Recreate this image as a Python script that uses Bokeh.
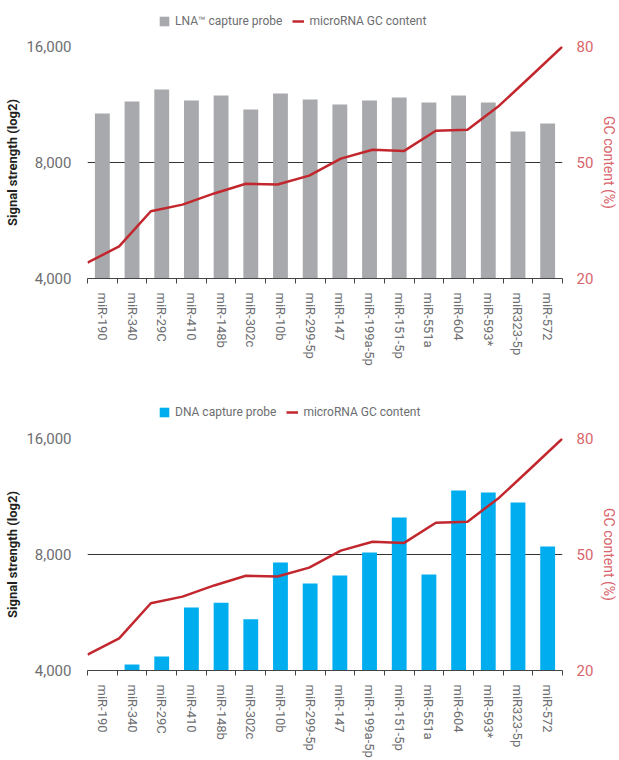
import numpy as np
from bokeh.plotting import figure
from bokeh.layouts import column
from bokeh.models import (Range1d, LinearAxis, LinearScale, FixedTicker,
                          NumeralTickFormatter, Legend, LegendItem)
from bokeh.embed import file_html
from bokeh.resources import INLINE

# ---- data -------------------------------------------------------------
categories = ["miR-190", "miR-340", "miR-29C", "miR-410", "miR-148b", "miR-302c",
              "miR-10b", "miR-299-5p", "miR-147", "miR-199a-5p", "miR-151-5p",
              "miR-551a", "miR-604", "miR-593*", "miR323-5p", "miR-572"]
lna_signal = [10720, 11520, 12370, 11590, 11940, 10980, 12080, 11650,
              11310, 11590, 11790, 11450, 11940, 11450, 9630, 10100]
dna_signal = [4000, 4145, 4350, 5830, 6000, 5430, 7630, 6730,
              7060, 8100, 9980, 7100, 11730, 11590, 10920, 8390]
gc_content = [24.1, 28.3, 37.4, 39.1, 42.0, 44.5, 44.3, 46.6,
              51.0, 53.3, 53.0, 58.2, 58.5, 64.7, 72.3, 80.0]
signal_ticks = [4000, 8000, 16000]
gc_ticks = [20, 50, 80]
lna_label = "LNA™ capture probe"
dna_label = "DNA capture probe"
gc_label = "microRNA GC content"

FONT = "Roboto"
GREY_TXT = "#6d6e71"
RED = "#c1272d"
RED_TXT = "#d9646c"
FRAME_W, FRAME_H = 475, 232
LEFT, RIGHT = 87, 48
LEG_H = 30
LNA_COLOR = "#a7a9ac"
DNA_COLOR = "#00aeef"


def make_legend_fig(bar_color, bar_label, vy):
    lf = figure(frame_width=FRAME_W, frame_height=LEG_H, output_backend="svg",
                toolbar_location=None, x_axis_location=None, y_axis_location=None,
                min_border_left=LEFT, min_border_right=RIGHT,
                min_border_top=0, min_border_bottom=0,
                outline_line_color=None, x_range=Range1d(0, 1), y_range=Range1d(0, 1))
    lf.grid.visible = False
    # legend-only renderers: their single point lies outside the visible range
    b = lf.vbar(x=[-5], top=[-4], bottom=[-5], width=0.5,
                fill_color=bar_color, line_color=None)
    ln = lf.line(x=[-5, -4], y=[-5, -5], line_color=RED, line_width=2.5)
    legend = Legend(items=[LegendItem(label=bar_label, renderers=[b]),
                           LegendItem(label=gc_label, renderers=[ln])],
                    location=(71, vy), orientation="horizontal",
                    glyph_width=12, glyph_height=12, label_height=12,
                    label_width=101, label_standoff=5, spacing=10,
                    padding=0, margin=0, border_line_color=None,
                    background_fill_alpha=0,
                    label_text_font=FONT, label_text_font_size="12px",
                    label_text_color=GREY_TXT)
    lf.add_layout(legend)
    return lf


def make_chart(values, bar_color, border_top, border_bottom):
    n = len(categories)
    centers = list(np.arange(n) + 0.5)
    p = figure(frame_width=FRAME_W, frame_height=FRAME_H, output_backend="svg",
               toolbar_location=None, y_axis_type="log",
               x_range=Range1d(0, n),
               y_range=Range1d(signal_ticks[0], signal_ticks[-1]),
               min_border_left=LEFT, min_border_right=RIGHT,
               min_border_top=border_top, min_border_bottom=border_bottom,
               outline_line_color=None, background_fill_color="white")
    p.extra_x_ranges = {"gcx": Range1d(0, n - 1)}
    p.extra_x_scales = {"gcx": LinearScale()}
    p.extra_y_ranges = {"gc": Range1d(gc_ticks[0], gc_ticks[-1])}
    p.extra_y_scales = {"gc": LinearScale()}

    p.vbar(x=centers, top=values, bottom=signal_ticks[0], width=0.5,
           fill_color=bar_color, line_color=None)
    p.line(x=list(range(n)), y=gc_content, x_range_name="gcx",
           y_range_name="gc", line_color=RED, line_width=2.5)

    # x axis
    xa = p.xaxis[0]
    xa.ticker = FixedTicker(ticks=centers, minor_ticks=list(range(n + 1)))
    xa.major_label_overrides = {c: lab for c, lab in zip(centers, categories)}
    xa.major_label_orientation = "vertical"
    xa.major_tick_out = 0
    xa.major_tick_in = 0
    xa.minor_tick_out = 5
    xa.minor_tick_in = 0
    xa.minor_tick_line_color = "#444444"
    xa.axis_line_color = "#444444"
    xa.major_label_standoff = 9
    xa.major_label_text_font = FONT
    xa.major_label_text_font_size = "13px"
    xa.major_label_text_color = GREY_TXT
    p.xgrid.visible = False

    # left axis
    ya = p.yaxis[0]
    ya.ticker = FixedTicker(ticks=signal_ticks, minor_ticks=[])
    ya.formatter = NumeralTickFormatter(format="0,0")
    ya.axis_line_color = None
    ya.major_tick_line_color = None
    ya.minor_tick_line_color = None
    ya.major_label_standoff = 10
    ya.major_label_text_font = FONT
    ya.major_label_text_font_size = "15px"
    ya.major_label_text_color = GREY_TXT
    ya.axis_label = "Signal strength (log2)"
    ya.axis_label_text_font = FONT
    ya.axis_label_text_font_size = "13px"
    ya.axis_label_text_font_style = "bold"
    ya.axis_label_text_color = "#231f20"
    ya.axis_label_standoff = 3
    p.ygrid.grid_line_color = "#333333"
    p.ygrid.grid_line_width = 1

    # right axis
    ra = LinearAxis(y_range_name="gc", ticker=FixedTicker(ticks=gc_ticks, minor_ticks=[]))
    ra.axis_line_color = None
    ra.major_tick_line_color = None
    ra.minor_tick_line_color = None
    ra.major_label_standoff = 8
    ra.major_label_text_font = FONT
    ra.major_label_text_font_size = "15px"
    ra.major_label_text_color = RED_TXT
    ra.axis_label = "GC content (%)"
    ra.axis_label_text_font = FONT
    ra.axis_label_text_font_size = "14px"
    ra.axis_label_text_font_style = "normal"
    ra.axis_label_text_color = RED_TXT
    ra.axis_label_standoff = 5
    p.add_layout(ra, "right")
    return p


leg1 = make_legend_fig(LNA_COLOR, lna_label, 2)
p1 = make_chart(lna_signal, LNA_COLOR, 16, 117)
leg2 = make_legend_fig(DNA_COLOR, dna_label, 6)
p2 = make_chart(dna_signal, DNA_COLOR, 13, 82)
layout = column(leg1, p1, leg2, p2, spacing=0)

open("out.html", "w").write(file_html(layout, INLINE))
